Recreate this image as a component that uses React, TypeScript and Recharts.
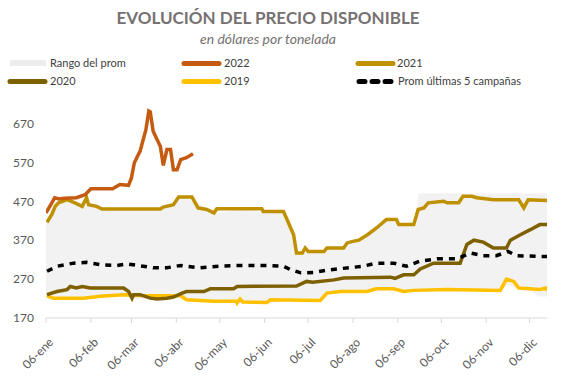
import React from 'react';
import { ComposedChart, Line, Area, XAxis, YAxis } from 'recharts';

// días contados desde el 06-ene
const monthTicks = [0, 31, 59, 90, 120, 151, 181, 212, 243, 273, 304, 334];
const monthLabels = ['06-ene', '06-feb', '06-mar', '06-abr', '06-may', '06-jun', '06-jul', '06-ago', '06-sep', '06-oct', '06-nov', '06-dic'];
const yTicks = [170, 270, 370, 470, 570, 670];

// [día, USD/t]
const serie2022 = [[0, 440], [6, 479], [9, 476], [13, 478], [21, 479], [27, 487], [31, 502], [46, 502], [51, 513], [57, 511], [59, 530], [61, 569], [65, 599], [69, 654], [71, 702], [72, 700], [74, 650], [79, 611], [81, 562], [83.5, 603], [86, 603], [88, 551], [90.5, 551], [93, 577], [97, 582], [101.5, 592]];
const serie2021 = [[0.7, 416], [4, 436], [6.4, 457], [8.7, 466], [14.5, 474], [20, 466], [25, 457], [28, 479], [29.4, 461], [35, 457], [38.7, 450], [79, 450], [81, 455], [88, 461], [91.6, 481], [100.8, 481], [105, 453], [111, 449], [116, 440], [118, 451], [149, 451], [150, 444], [164, 444], [167.5, 414], [171, 384], [173, 337], [177, 337], [179, 350], [181, 341], [192, 341], [194, 350], [205.5, 350], [208, 363], [212, 367], [216, 370], [222, 384], [228.5, 402], [235, 423], [242, 423], [243.6, 410], [254, 410], [257, 449], [261, 453], [264, 466], [274.6, 470], [277, 466], [285, 466], [288, 483], [294, 483], [297.6, 479], [309, 474], [326.5, 474], [330, 453], [333, 474], [346, 472]];
const serie2020 = [[0.7, 230], [7.6, 238], [14.5, 243], [16.8, 251], [21, 247], [25, 251], [30.6, 247], [53.6, 247], [57, 238], [59.4, 221], [60.5, 230], [65, 230], [72, 221], [76.6, 219], [83.5, 221], [88, 224], [94, 234], [97, 238], [109, 238], [113.5, 245], [129.6, 245], [132, 251], [173, 252], [180, 264], [184, 262], [199, 268], [205.5, 273], [237.8, 275], [241, 272], [247, 281], [254, 281], [258.5, 296], [267.7, 311], [286, 311], [290.7, 359], [295.5, 370], [302, 365], [309, 350], [318, 350], [320.7, 370], [327.6, 384], [334.5, 397], [341, 410], [346, 410]];
const serie2019 = [[0.7, 227], [5, 221], [26, 221], [37.5, 226], [53.6, 230], [65, 228], [93, 227], [97, 217], [116, 213], [131.6, 213], [132, 209], [134, 219], [136, 211], [152.6, 210], [155, 217], [189.4, 215], [194, 234], [203, 238], [221.7, 238], [228, 245], [240, 245], [247, 238], [254, 241], [277, 243], [313.7, 241], [318, 270], [323, 264], [326.5, 247], [341, 243], [345, 247], [346, 241]];
const seriePromedio = [[0.7, 290], [7.6, 303], [19, 311], [28, 313], [37.5, 307], [49, 305], [56, 309], [67, 303], [74, 299], [83.5, 299], [93, 305], [97, 303], [106, 299], [120, 303], [134, 305], [153, 305], [164, 303], [169, 294], [176, 286], [185, 287], [196, 294], [219, 303], [228, 311], [240, 311], [249, 303], [258, 316], [270, 322], [284, 322], [293, 337], [302, 330], [311, 330], [319, 341], [325, 330], [346, 328]];

const rangoDias = [0, 6, 14, 30, 38, 57, 59, 72, 84, 91, 97, 101, 116, 132, 152, 164, 168, 173, 181, 190, 194, 205, 222, 235, 254, 256, 257, 275, 300, 313, 318, 326, 335, 340, 346];
const rangoMin = [225, 219, 219, 219, 222, 228, 219, 218, 219, 224, 215, 214, 211, 207, 208, 212, 213, 213, 213, 213, 232, 236, 236, 243, 239, 239, 239, 241, 240, 239, 255, 245, 240, 225, 225];
const rangoMax = [414, 455, 470, 458, 448, 448, 448, 448, 452, 478, 478, 478, 438, 448, 442, 442, 412, 335, 338, 338, 348, 348, 382, 420, 408, 408, 490, 490, 490, 490, 490, 490, 490, 490, 490];

const toPts = (s: number[][]) => s.map(([day, v]) => ({ day, v }));
const rangoData = rangoDias.map((day, i) => ({ day, rango: [rangoMin[i], rangoMax[i]] }));

const FONT = 'Lato, "Open Sans", sans-serif';
const TXT = '#595959';

const XTick = (props: any) => {
  const { x, y, payload } = props;
  const i = monthTicks.indexOf(payload.value);
  return (
    <g transform={`translate(${x + 3},${y + 13})`}>
      <text textAnchor="end" transform="rotate(-45)" fontSize={12} fill={TXT} fontFamily={FONT} dy="0.6em">
        {monthLabels[i]}
      </text>
    </g>
  );
};

export default function App() {
  return (
    <div style={{ position: 'absolute', left: 0, top: 0, width: 570, height: 383, background: '#fff', fontFamily: FONT }}>
      <svg width={570} height={100} style={{ position: 'absolute', left: 0, top: 0 }}>
        <text x={268} y={24} textAnchor="middle" fontSize={17} fontWeight="bold" fill="#767171" fontFamily={FONT}>EVOLUCIÓN DEL PRECIO DISPONIBLE</text>
        <text x={268} y={44} textAnchor="middle" fontSize={14} fontStyle="italic" fill="#767171" fontFamily={FONT}>en dólares por tonelada</text>

        <rect x={10} y={60} width={36} height={6} fill="#EDEDED" />
        <text x={50} y={67} fontSize={11} fill="#404040" fontFamily={FONT}>Rango del prom</text>
        <line x1={184} y1={63.5} x2={219} y2={63.5} stroke="#C55A11" strokeWidth={5} strokeLinecap="round" />
        <text x={224} y={67} fontSize={11} fill="#404040" fontFamily={FONT}>2022</text>
        <line x1={358} y1={63.5} x2={393} y2={63.5} stroke="#BF9000" strokeWidth={5} strokeLinecap="round" />
        <text x={397} y={67} fontSize={11} fill="#404040" fontFamily={FONT}>2021</text>

        <line x1={10} y1={81.5} x2={45} y2={81.5} stroke="#7F6000" strokeWidth={5} strokeLinecap="round" />
        <text x={50} y={85} fontSize={11} fill="#404040" fontFamily={FONT}>2020</text>
        <line x1={184} y1={81.5} x2={219} y2={81.5} stroke="#FFC000" strokeWidth={5} strokeLinecap="round" />
        <text x={224} y={85} fontSize={11} fill="#404040" fontFamily={FONT}>2019</text>
        <line x1={359} y1={81.5} x2={391} y2={81.5} stroke="#000" strokeWidth={5} strokeLinecap="round" strokeDasharray="6 7" />
        <text x={398} y={85} fontSize={11} fill="#404040" fontFamily={FONT}>Prom últimas 5 campañas</text>
      </svg>

      <div style={{ position: 'absolute', left: 0, top: 0 }}>
        <ComposedChart width={570} height={383} margin={{ top: 104, right: 23, left: 6, bottom: 5 }}>
          <XAxis
            type="number"
            dataKey="day"
            domain={[0, 346]}
            ticks={monthTicks}
            interval={0}
            stroke="#D9D9D9"
            tickSize={5}
            height={60}
            tick={<XTick />}
            allowDataOverflow
          />
          <YAxis
            type="number"
            domain={[170, 720]}
            ticks={yTicks}
            interval={0}
            width={40}
            axisLine={false}
            tickLine={false}
            tick={{ fontSize: 12, fill: TXT, fontFamily: FONT }}
            tickMargin={6}
            allowDataOverflow
          />
          <Area data={rangoData} dataKey="rango" type="linear" fill="#F2F2F2" fillOpacity={1} stroke="none" isAnimationActive={false} />
          <Line data={toPts(serie2019)} dataKey="v" type="linear" stroke="#FFC000" strokeWidth={3.5} dot={false} isAnimationActive={false} />
          <Line data={toPts(serie2020)} dataKey="v" type="linear" stroke="#7F6000" strokeWidth={3.5} dot={false} isAnimationActive={false} />
          <Line data={toPts(seriePromedio)} dataKey="v" type="linear" stroke="#000" strokeWidth={3.5} strokeDasharray="6 6" dot={false} isAnimationActive={false} />
          <Line data={toPts(serie2021)} dataKey="v" type="linear" stroke="#BF9000" strokeWidth={3.5} dot={false} isAnimationActive={false} />
          <Line data={toPts(serie2022)} dataKey="v" type="linear" stroke="#C55A11" strokeWidth={3.5} dot={false} isAnimationActive={false} />
        </ComposedChart>
      </div>
    </div>
  );
}
